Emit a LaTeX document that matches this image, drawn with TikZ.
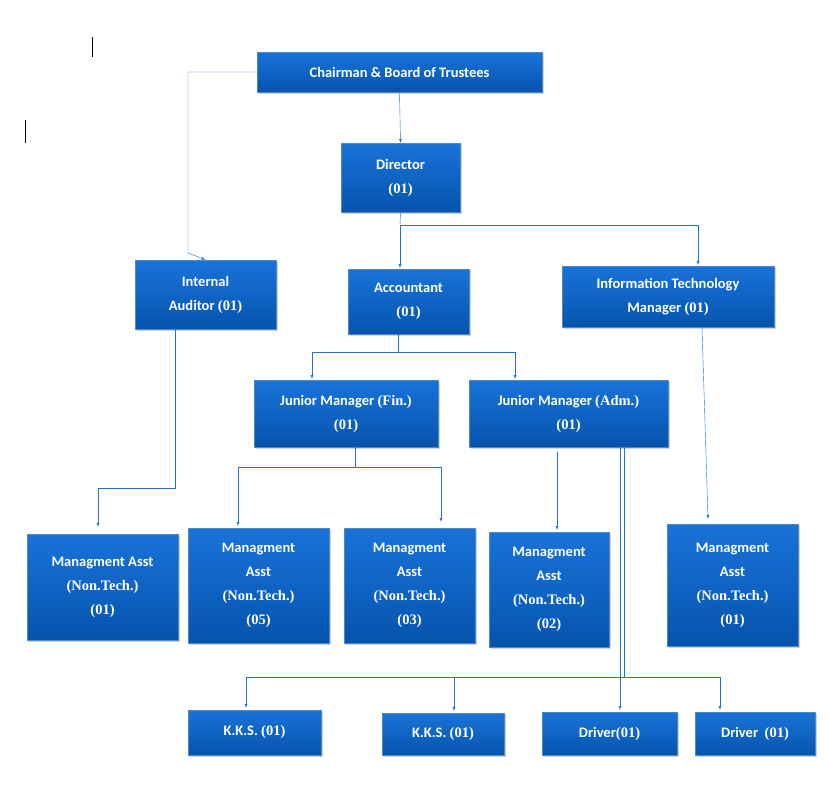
\documentclass[tikz,border=0pt]{standalone}
\usepackage{fontspec}
\setmainfont{Carlito}
\newfontfamily\numfont{Liberation Serif}
\usetikzlibrary{shadows}
\definecolor{boxTop}{rgb}{0.10,0.45,0.85}
\definecolor{boxBot}{rgb}{0.02,0.33,0.68}
\definecolor{linkBlue}{rgb}{0.12,0.45,0.80}
\newcommand{\nb}[1]{{\numfont\bfseries #1}}

\begin{document}
\begin{tikzpicture}[x=1pt,y=-1pt,
  post/.style={rectangle,draw=boxBot!70!white,top color=boxTop,bottom color=boxBot,
    text=white,font=\fontsize{14.5}{24}\selectfont\bfseries,align=center,inner sep=2pt,
    drop shadow={opacity=0.35,shadow xshift=2pt,shadow yshift=-2pt}},
  arr/.style={draw=linkBlue,->,>=latex},
  lnk/.style={draw=linkBlue}]

  \useasboundingbox (0,0) rectangle (830,798);

  % stray marks
  \draw (92,37) -- (92,57);
  \draw (25,120) -- (25,143);

  % posts
  \node[post,minimum width=285,minimum height=40] (chair) at (399.5,72) {Chairman \& Board of Trustees};
  \node[post,minimum width=119,minimum height=69] (dir) at (400.5,177.5) {Director\\\nb{(01)}};
  \node[post,minimum width=141,minimum height=69] (aud) at (205.5,294.5) {Internal\\Auditor \nb{(01)}};
  \node[post,minimum width=121,minimum height=65] (acc) at (408.5,301.5) {Accountant\\\nb{(01)}};
  \node[post,minimum width=212,minimum height=61] (itm) at (668,296.5) {Information Technology\\Manager \nb{(01)}};
  \node[post,minimum width=184,minimum height=67] (jmf) at (346,413.5) {Junior Manager \nb{(Fin.)}\\\nb{(01)}};
  \node[post,minimum width=199,minimum height=67] (jma) at (568.5,413.5) {Junior Manager \nb{(Adm.)}\\\nb{(01)}};
  \node[post,minimum width=151,minimum height=106] (ma1) at (102.5,587) {Managment Asst\\\nb{(Non.Tech.)}\\\nb{(01)}};
  \node[post,minimum width=141,minimum height=115] (ma2) at (258.5,585.5) {Managment\\Asst\\\nb{(Non.Tech.)}\\\nb{(05)}};
  \node[post,minimum width=131,minimum height=115] (ma3) at (409.5,585.5) {Managment\\Asst\\\nb{(Non.Tech.)}\\\nb{(03)}};
  \node[post,minimum width=120,minimum height=115] (ma4) at (549,589.5) {Managment\\Asst\\\nb{(Non.Tech.)}\\\nb{(02)}};
  \node[post,minimum width=131,minimum height=122] (ma5) at (732.5,585) {Managment\\Asst\\\nb{(Non.Tech.)}\\\nb{(01)}};
  \node[post,minimum width=133,minimum height=45] (kks1) at (254.5,732.5) {K.K.S. \nb{(01)}};
  \node[post,minimum width=122,minimum height=42] (kks2) at (443,734) {K.K.S. \nb{(01)}};
  \node[post,minimum width=135,minimum height=43] (drv1) at (609.5,733.5) {Driver\nb{(01)}};
  \node[post,minimum width=120,minimum height=43] (drv2) at (755,733.5) {Driver~~\nb{(01)}};

  % links
  \draw[arr] (chair.west) -| (188,253) -- (aud.north);
  \draw[arr] (chair.south) -- (dir.north);
  \coordinate (dj) at (400,225);
  \draw[lnk] (dir.south) -- (dj);
  \draw[arr] (dj) -- (400,268);
  \draw[arr] (dj) -| (698,265);

  \coordinate (aj) at (398,352);
  \draw[lnk] (398,334) -- (aj);
  \draw[arr] (aj) -| (312,379);
  \draw[arr] (aj) -| (515,379);

  \draw[arr] (175,329) -- (175,488) -| (98,527);

  \coordinate (fj) at (355,467);
  \draw[lnk] (355,447) -- (fj);
  \draw[arr] (fj) -| (238,526);
  \draw[arr] (fj) -| (441,522);

  \draw[arr] (557,452) -- (557,530);
  \draw[arr] (702,327) -- (708,519);

  \coordinate (kj) at (622,677);
  \draw[lnk] (620,447) -- (620,677);
  \draw[lnk] (624,447) -- (624,677);
  \draw[arr] (kj) -| (246,708);
  \draw[arr] (454,677) -- (454,711);
  \draw[arr] (620,677) -- (620,710);
  \draw[arr] (kj) -| (720,710);

\end{tikzpicture}
\end{document}
